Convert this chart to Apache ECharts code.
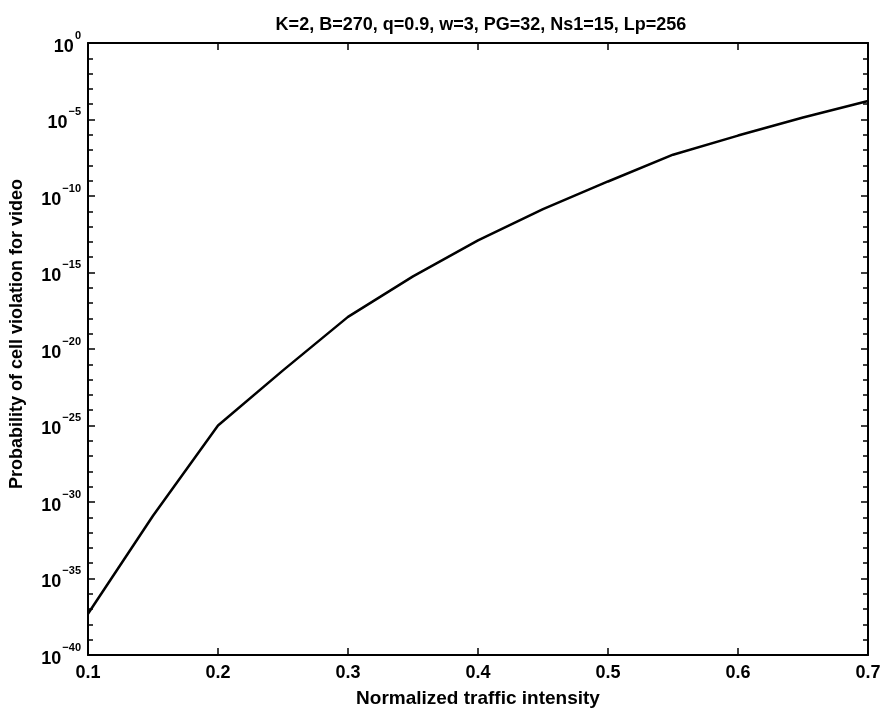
<!DOCTYPE html>
<html>
<head>
<meta charset="utf-8">
<script src="https://cdn.jsdelivr.net/npm/echarts@6/dist/echarts.min.js"></script>
<style>
  html, body { margin: 0; padding: 0; background: #fff; }
  #chart { width: 889px; height: 712px; }
</style>
</head>
<body>
<div id="chart"></div>
<script>
// Normalized traffic intensity (x) and violation probability for video (y)
const intensity = [0.10, 0.15, 0.20, 0.25, 0.30, 0.35, 0.40, 0.45, 0.50, 0.55, 0.60, 0.65, 0.70];
const probability = [5.0e-38, 1.26e-31, 1.0e-25, 4.0e-22, 1.26e-18, 5.6e-16, 1.26e-13, 1.4e-11, 8.9e-10, 5.0e-8, 8.9e-7, 1.35e-5, 1.6e-4];

const xTickLabels = ['0.1', '0.2', '0.3', '0.4', '0.5', '0.6', '0.7'];
// decade exponents of the labelled y ticks (10^0 ... 10^-40)
const yTickExponents = [0, -5, -10, -15, -20, -25, -30, -35, -40];

const titleText = 'K=2, B=270, q=0.9, w=3, PG=32, Ns1=15, Lp=256';
const xName = 'Normalized traffic intensity';
const yName = 'Probability of cell violation for video';

const FONT = 'Liberation Sans, Arial, sans-serif';

const chart = echarts.init(document.getElementById('chart'), null, { renderer: 'canvas' });

// the y axis runs in decades: each value is plotted at log10(p)
const yMin = yTickExponents[yTickExponents.length - 1];
const yMax = yTickExponents[0];

function yLabel(e) {
  const r = Math.round(e);
  if (yTickExponents.indexOf(r) < 0) return '';
  return '{b|10}{s|' + (r === 0 ? '0' : '\u2212' + Math.abs(r)) + '}';
}

const tickCommon = { show: true, inside: true, length: 7, lineStyle: { color: '#000', width: 1.5 } };
const minorCommon = { show: true, splitNumber: 5, length: 5, lineStyle: { color: '#000', width: 1.5 } };
const lineCommon = { show: true, onZero: false, lineStyle: { color: '#000', width: 2 } };

chart.setOption({
  animation: false,
  backgroundColor: '#fff',
  title: {
    text: titleText,
    left: 476, top: 11, textAlign: 'center',
    textStyle: { fontFamily: FONT, fontSize: 18, fontWeight: 'bold', color: '#000' }
  },
  grid: { left: 88, right: 21, top: 43, bottom: 57, containLabel: false, outerBoundsMode: 'none' },
  xAxis: [{
    type: 'value', min: 0.1, max: 0.7, interval: 0.1, position: 'bottom',
    name: xName, nameLocation: 'middle', nameGap: 34,
    nameTextStyle: { fontFamily: FONT, fontSize: 19, fontWeight: 'bold', color: '#000' },
    axisLine: lineCommon, axisTick: tickCommon, splitLine: { show: false },
    axisLabel: {
      margin: 9, fontFamily: FONT, fontSize: 18, fontWeight: 'bold', color: '#000',
      formatter: function (v) { return xTickLabels[Math.round((v - 0.1) * 10)]; }
    }
  }, {
    type: 'value', min: 0.1, max: 0.7, interval: 0.1, position: 'top',
    axisLine: lineCommon, axisTick: tickCommon, axisLabel: { show: false }, splitLine: { show: false }
  }],
  yAxis: [{
    type: 'value', min: yMin, max: yMax, interval: 5, position: 'left',
    name: yName, nameLocation: 'middle', nameGap: 62, nameRotate: 90,
    nameTextStyle: { fontFamily: FONT, fontSize: 18, fontWeight: 'bold', color: '#000', padding: [0, 0, 0, 30] },
    axisLine: lineCommon, axisTick: tickCommon, minorTick: minorCommon,
    splitLine: { show: false }, minorSplitLine: { show: false },
    axisLabel: {
      margin: 7, formatter: yLabel,
      rich: {
        b: { fontFamily: FONT, fontSize: 18, fontWeight: 'bold', color: '#000', lineHeight: 26, verticalAlign: 'bottom' },
        s: { fontFamily: FONT, fontSize: 11, fontWeight: 'bold', color: '#000', lineHeight: 26, verticalAlign: 'top', padding: [0, 0, 0, 1] }
      }
    }
  }, {
    type: 'value', min: yMin, max: yMax, interval: 5, position: 'right',
    axisLine: lineCommon, axisTick: tickCommon, minorTick: minorCommon,
    axisLabel: { show: false }, splitLine: { show: false }, minorSplitLine: { show: false }
  }],
  series: [{
    type: 'line',
    xAxisIndex: 0, yAxisIndex: 0,
    data: intensity.map((x, i) => [x, Math.log10(probability[i])]),
    showSymbol: false,
    lineStyle: { color: '#000', width: 2.5 }
  }]
});
</script>
</body>
</html>
